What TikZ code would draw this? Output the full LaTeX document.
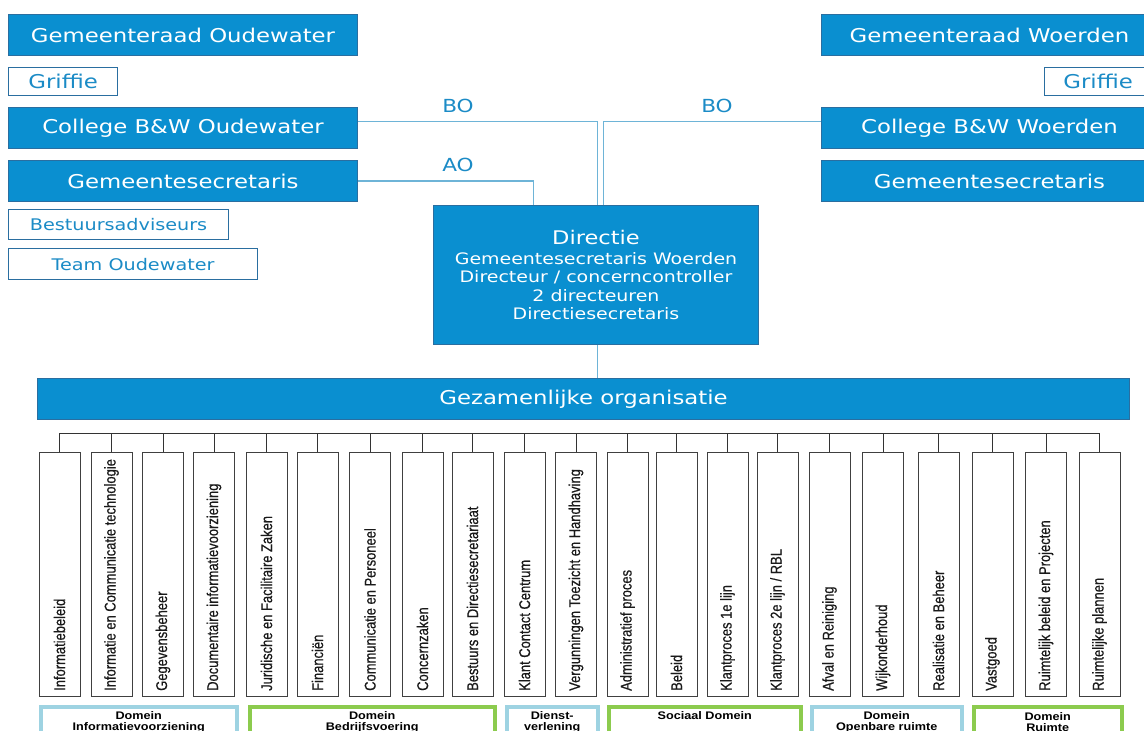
\documentclass[tikz,border=0pt]{standalone}
\usepackage{fontspec}
\setmainfont{DejaVu Sans}
\newfontfamily\wideFont[FakeStretch=1.2]{DejaVu Sans}
\newfontfamily\colFont[FakeStretch=0.83,FakeBold=0.6]{Liberation Sans}
\newfontfamily\domFont[FakeStretch=1.15]{Liberation Sans}

\definecolor{ovblue}{RGB}{10,143,208}
\definecolor{ovedge}{RGB}{42,110,160}
\definecolor{ovtext}{RGB}{27,139,198}
\definecolor{ovline}{RGB}{110,180,215}
\definecolor{domblue}{RGB}{158,211,226}
\definecolor{domgreen}{RGB}{140,203,78}

\tikzset{
  bluebox/.style={draw=ovedge,fill=ovblue,text=white,line width=1pt,inner sep=0pt,anchor=north west,
    font=\wideFont\fontsize{19}{22}\selectfont},
  whitebox/.style={draw=ovedge,fill=white,text=ovtext,line width=1.2pt,inner sep=0pt,anchor=north west},
  ovconn/.style={draw=ovline,line width=1.3pt},
  ovlabel/.style={text=ovtext,inner sep=0pt,font=\wideFont\fontsize{18}{20}\selectfont},
  colbox/.style={draw=black!75,line width=1pt,inner sep=0pt,anchor=north,minimum width=41pt,minimum height=244pt},
  coltext/.style={rotate=90,anchor=west,inner sep=0pt,text=black!90,font=\colFont\fontsize{15.6}{16}\selectfont},
  tickline/.style={draw=black!80,line width=1pt},
  dombox/.style={line width=3.5pt,inner sep=0pt,anchor=north west,minimum height=31pt,align=center,
    font=\domFont\bfseries\fontsize{11}{11}\selectfont},
}

\begin{document}
\begin{tikzpicture}[x=1pt,y=-1pt]
\useasboundingbox (0,0) rectangle (1144,731);
\clip (0,0) rectangle (1144,731);

% Oudewater
\node [bluebox,minimum width=349pt,minimum height=41pt] (graadO) at (8,14) {Gemeenteraad Oudewater};
\node [whitebox,minimum width=109pt,minimum height=28pt,font=\wideFont\fontsize{19}{22}\selectfont] (griffO) at (8,67) {Griffie};
\node [bluebox,minimum width=349pt,minimum height=41pt] (cbwO) at (8,107) {College B\&W Oudewater};
\node [bluebox,minimum width=349pt,minimum height=41pt] (gsO) at (8,160) {Gemeentesecretaris};
\node [whitebox,minimum width=220pt,minimum height=30pt,font=\wideFont\fontsize{16}{18}\selectfont] (bestO) at (8,209) {Bestuursadviseurs};
\node [whitebox,minimum width=249pt,minimum height=31pt,font=\wideFont\fontsize{16}{18}\selectfont] (teamO) at (8,248) {Team Oudewater};

% Woerden
\node [bluebox,minimum width=336pt,minimum height=41pt] (graadW) at (821,14) {Gemeenteraad Woerden};
\node [whitebox,minimum width=107pt,minimum height=28pt,font=\wideFont\fontsize{19}{22}\selectfont] (griffW) at (1044,67) {Griffie};
\node [bluebox,minimum width=336pt,minimum height=41pt] (cbwW) at (821,107) {College B\&W Woerden};
\node [bluebox,minimum width=336pt,minimum height=41pt] (gsW) at (821,160) {Gemeentesecretaris};

% Directie
\node [bluebox,minimum width=325pt,minimum height=139pt,align=center,
  font=\wideFont\fontsize{15.8}{18.5}\selectfont] (dir) at (433,205)
  {{\fontsize{18.8}{20}\selectfont Directie}\\[1.5pt]Gemeentesecretaris Woerden\\Directeur / concerncontroller\\2 directeuren\\Directiesecretaris};

\node [bluebox,minimum width=1092pt,minimum height=41pt,font=\wideFont\fontsize{19}{22}\selectfont] (gez) at (37,378) {Gezamenlijke organisatie};

\draw [ovconn] ([yshift=6.5pt]cbwO.east) -| ([xshift=1.5pt]dir.north);
\draw [ovconn] ([yshift=6.5pt]cbwW.west) -| ([xshift=7.5pt]dir.north);
\draw [ovconn] (gsO.east) -| ([xshift=-62.5pt]dir.north);
\draw [ovconn] ([xshift=1.5pt]dir.south) -- ([xshift=1.5pt]dir.south |- gez.north);

\node [ovlabel] (boO) at (458,106) {BO};
\node [ovlabel] (boW) at (717,106) {BO};
\node [ovlabel] (aoO) at (458,165) {AO};

% afdelingen
\coordinate (barL) at (59.5,433);

\foreach \x/\name [count=\i] in {59.5/Informatiebeleid,111.5/Informatie en Communicatie technologie,
  163/Gegevensbeheer,214/Documentaire informatievoorziening,266.5/Juridische en Facilitaire Zaken,
  317.5/Financiën,370/Communicatie en Personeel,422.5/Concernzaken,472.5/Bestuurs en Directiesecretariaat,
  524.5/Klant Contact Centrum,576/Vergunningen Toezicht en Handhaving,627.5/Administratief proces,
  676.5/Beleid,727.5/Klantproces 1e lijn,777.5/{Klantproces 2e lijn / RBL},829.5/Afval en Reiniging,
  883/Wijkonderhoud,938.5/Realisatie en Beheer,992.5/Vastgoed,1046/Ruimtelijk beleid en Projecten,
  1099.5/Ruimtelijke plannen}
{
  \node [colbox] (col\i) at (\x,452) {};
  \node [coltext] (lbl\i) at ([yshift=6pt]col\i.south) {\name};
  \draw [tickline] (col\i.north) -- (col\i.north |- barL);
}
\draw [tickline] (barL) -- (col21.north |- barL);

% domeinen
\node [dombox,draw=domblue,minimum width=196pt] (domIV) at (39,705) {Domein\\Informatievoorziening};
\node [dombox,draw=domgreen,minimum width=245pt] (domBV) at (248,705) {Domein\\Bedrijfsvoering};
\node [dombox,draw=domblue,minimum width=91pt] (domDV) at (505,705) {Dienst-\\verlening};
\node [dombox,draw=domgreen,minimum width=192pt] (domSD) at (607,705) {Sociaal Domein\\\strut};
\node [dombox,draw=domblue,minimum width=150pt] (domOR) at (810,705) {Domein\\Openbare ruimte};
\node [dombox,draw=domgreen,minimum width=148pt] (domR) at (972,705) {Domein\\Ruimte};
\end{tikzpicture}
\end{document}
